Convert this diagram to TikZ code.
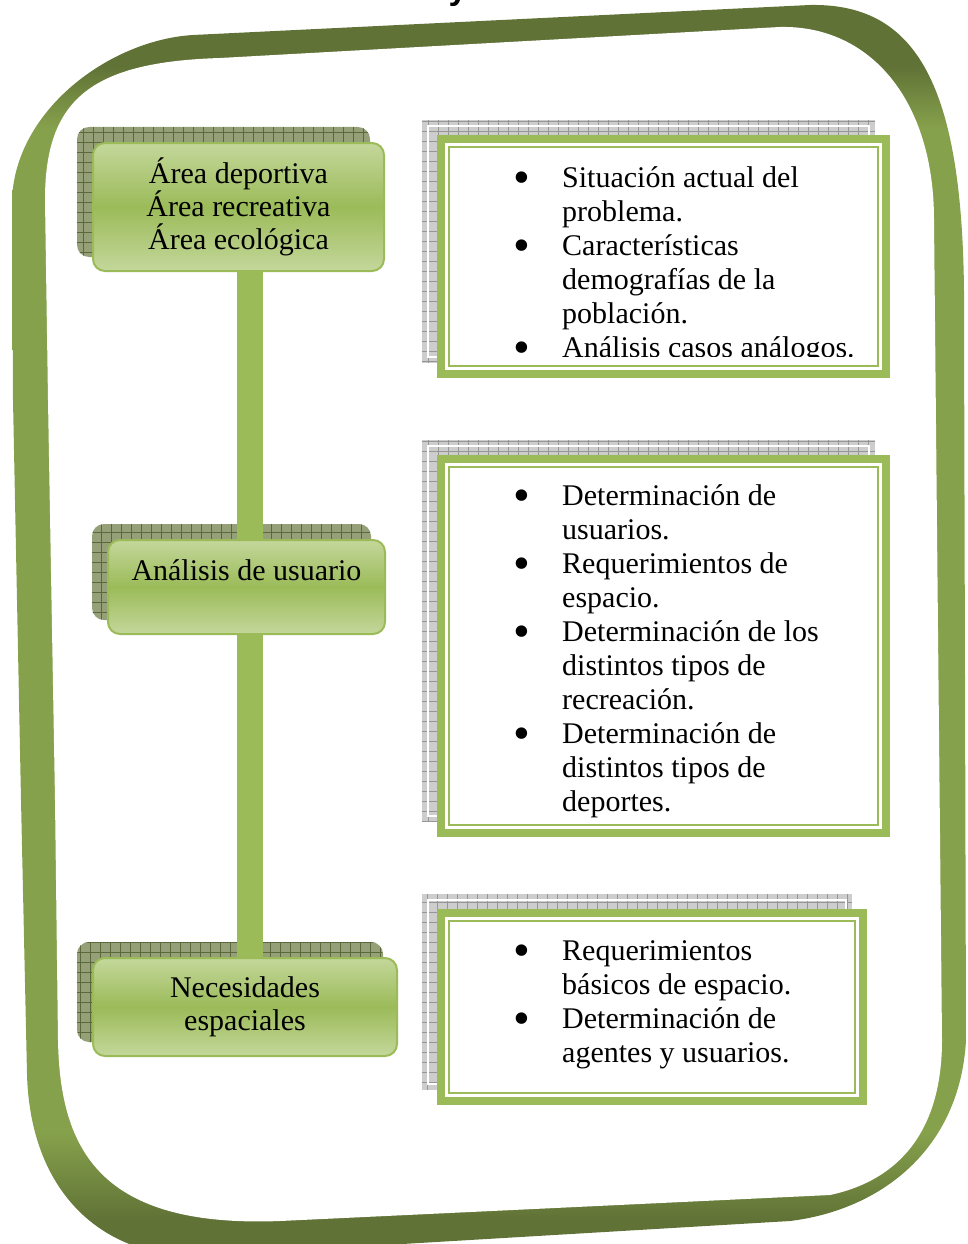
\documentclass[tikz,border=0pt]{standalone}
\usepackage{graphicx}
\usepackage{fontspec}
\setmainfont{Liberation Serif}
\newfontfamily\titlefont{Liberation Sans}
\usetikzlibrary{calc}

\definecolor{frdark}{RGB}{96,114,54}
\definecolor{frlight}{RGB}{134,161,76}
\definecolor{boxgreen}{RGB}{155,187,89}
\definecolor{boxlight}{RGB}{196,215,155}
\definecolor{shadegreen}{RGB}{150,160,120}
\definecolor{shadeline}{RGB}{90,104,58}
\definecolor{shadegray}{RGB}{205,205,205}
\definecolor{shadegrayline}{RGB}{150,150,150}

\pgfdeclareverticalshading{framebend}{100bp}{color(0bp)=(frdark); color(26.5bp)=(frdark); color(30bp)=(frlight); color(70bp)=(frlight); color(72.5bp)=(frdark); color(100bp)=(frdark)}

\newcommand{\infobullet}{\leavevmode\llap{\raisebox{-6pt}{\scalebox{1.6}{\textbullet}}\hspace{32pt}}}

\tikzset{
  stagebox/.style={draw=boxgreen, line width=2pt, rounded corners=12pt, top color=boxlight, bottom color=boxlight, middle color=boxgreen, align=center, inner sep=0pt, font=\fontsize{30}{33}\selectfont},
  stageshadow/.style={rounded corners=12pt, fill=shadegreen, path picture={\draw[shadeline, line width=0.8pt, step=10pt] (path picture bounding box.south west) grid (path picture bounding box.north east);}},
  infobox/.style={draw=boxgreen, line width=8pt, fill=white, inner sep=0pt},
  infoshadow/.style={fill=shadegray, path picture={\draw[shadegrayline, line width=0.6pt, step=10pt] (path picture bounding box.south west) grid (path picture bounding box.north east);}},
  infotext/.style={anchor=north west, inner sep=0pt, align=left, font=\fontsize{30}{34}\selectfont},
  spine/.style={boxgreen, line width=26pt},
}

\begin{document}
\begin{tikzpicture}[x=1pt,y=1pt,yscale=-1,xscale=1]
\useasboundingbox (0,0) rectangle (967,1244);

%Frame band
\path[shading=framebend] (193,35) -- (810,5) .. controls (920,3) and (966,90) .. (964,320) -- (966,1040) .. controls (960,1150) and (880,1210) .. (790,1221) -- (200,1256) .. controls (100,1258) and (30,1190) .. (27,1074) -- (21,800) -- (13,400) -- (12,200) .. controls (15,110) and (110,40) .. (193,35) -- cycle;
\fill[white] (220,58) -- (780,27) .. controls (870,25) and (934,100) .. (934,220) -- (942,1040) .. controls (942,1130) and (900,1180) .. (830,1195) -- (280,1221) .. controls (100,1228) and (60,1150) .. (58,1040) -- (55,800) -- (48,400) -- (45,200) .. controls (45,100) and (90,62) .. (220,58) -- cycle;

% Title Node
\node[font=\titlefont\bfseries\fontsize{34}{40}\selectfont, anchor=base, inner sep=0pt] (titlecut) at (458,0) {y};

%Shadows
\node[stageshadow, minimum width=293, minimum height=130] (shd1) at (223.5,192) {};
\node[stageshadow, minimum width=279, minimum height=96] (shd2) at (231.5,572) {};
\node[stageshadow, minimum width=306, minimum height=100] (shd3) at (230,992) {};
\node[infoshadow, minimum width=453, minimum height=243] (shdA) at (648.5,241.5) {};
\node[infoshadow, minimum width=453, minimum height=382] (shdB) at (648.5,631) {};
\node[infoshadow, minimum width=430, minimum height=196] (shdC) at (637,992) {};
\foreach \s in {shdA,shdB,shdC}
  \draw[white, line width=1.5pt] ($(\s.north west)+(6,6)$) rectangle ($(\s.south east)+(-6,-6)$);

%Stage boxes
\node[stagebox, minimum width=291, minimum height=128] (stage1) at (238.5,207) {Área deportiva\\Área recreativa\\Área ecológica};
\node[stagebox, minimum width=277, minimum height=94, text height=28pt, text depth=42pt] (stage2) at (246.5,587) {Análisis de usuario};
\node[stagebox, minimum width=304, minimum height=98] (stage3) at (245,1007) {Necesidades\\espaciales};

%Spine
\coordinate (spinex) at (250,0);
\draw[spine] (stage1.south -| spinex) -- (stage2.north -| spinex);
\draw[spine] (stage2.south -| spinex) -- (stage3.north -| spinex);

%Info boxes
\node[infobox, minimum width=445, minimum height=235] (infoA) at (663.5,256.5) {};
\node[infobox, minimum width=445, minimum height=374] (infoB) at (663.5,646) {};
\node[infobox, minimum width=422, minimum height=188] (infoC) at (652,1007) {};
\foreach \b in {infoA,infoB,infoC}
  \draw[boxgreen, line width=2pt] ($(\b.north west)+(12,12)$) rectangle ($(\b.south east)+(-12,-12)$);

% Text Node
\begin{scope}
\clip ($(infoA.north west)+(12,12)$) rectangle ($(infoA.south east)+(-12,-22)$);
\node[infotext] (txtA) at (562,157) {\infobullet\rule{0pt}{30pt}Situación actual del\\problema.\\\infobullet Características\\demografías de la\\población.\\\infobullet Análisis casos análogos.};
\end{scope}
% Text Node
\node[infotext] (txtB) at (562,475) {\infobullet\rule{0pt}{30pt}Determinación de\\usuarios.\\\infobullet Requerimientos de\\espacio.\\\infobullet Determinación de los\\distintos tipos de\\recreación.\\\infobullet Determinación de\\distintos tipos de\\deportes.};
% Text Node
\node[infotext] (txtC) at (562,930) {\infobullet\rule{0pt}{30pt}Requerimientos\\básicos de espacio.\\\infobullet Determinación de\\agentes y usuarios.};

\end{tikzpicture}
\end{document}
